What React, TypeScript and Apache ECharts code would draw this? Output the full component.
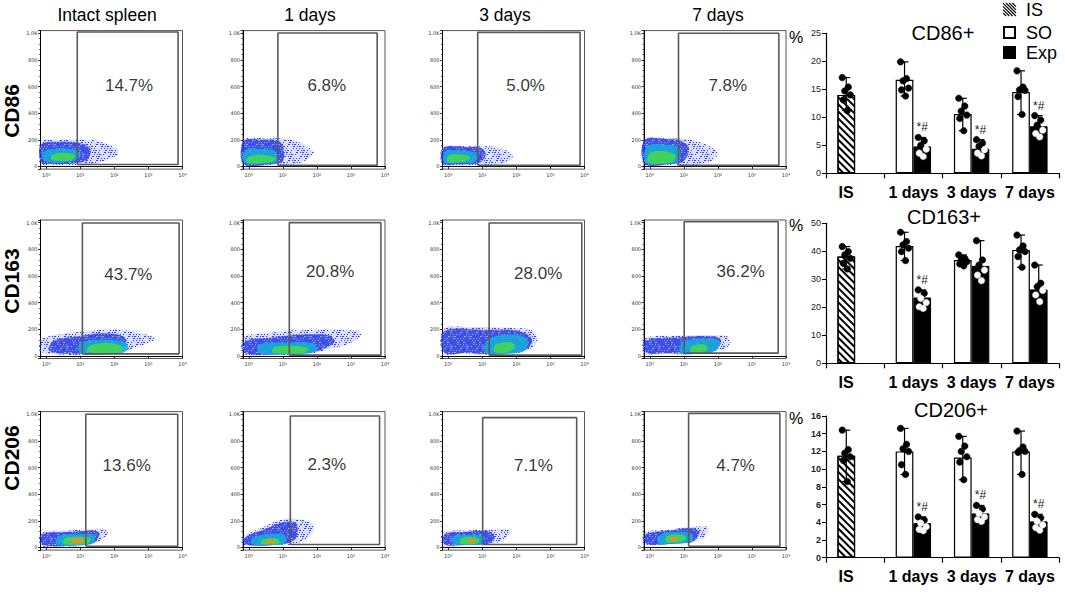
import React, { useEffect, useRef } from 'react';
import * as echarts from 'echarts';

const FONT = "'Liberation Sans', Arial, Helvetica, sans-serif";

// ---------- Flow cytometry panels ----------
const columnTitles = ['Intact spleen', '1 days', '3 days', '7 days'];
const rowMarkers = ['CD86', 'CD163', 'CD206'];
const gatePercents = [
  ['14.7%', '6.8%', '5.0%', '7.8%'],
  ['43.7%', '20.8%', '28.0%', '36.2%'],
  ['13.6%', '2.3%', '7.1%', '4.7%'],
];
// percent label anchor [log10(x), y]
const percentPos = [
  [[2.43, 610], [2.29, 610], [2.27, 610], [2.29, 610]],
  [[2.41, 608], [2.39, 632], [2.64, 615], [2.67, 630]],
  [[2.36, 612], [2.29, 620], [2.5, 612], [2.52, 612]],
];
// gates [log10 xLo, log10 xHi, yLo, yHi]
const gates = [
  [[0.91, 3.87, 15, 1010], [0.855, 3.77, 8, 1002], [0.864, 3.87, 8, 1007], [0.843, 3.79, 8, 1000]],
  [[1.06, 3.9, 15, 997], [1.19, 3.88, 5, 1000], [1.2, 3.92, 5, 997], [1.01, 3.77, 20, 1007]],
  [[1.16, 3.86, 8, 1000], [1.22, 3.84, 22, 987], [1.01, 3.77, 22, 975], [1.14, 3.82, 8, 1007]],
];
const xTickLabels = ['10⁰', '10¹', '10²', '10³', '10⁴'];
const yTickValues = [0, 200, 400, 600, 800, 1000];
const yTickLabels = ['0', '200', '400', '600', '800', '1.0K'];

// density cloud outlines, vertices [log10(x), y]
const cloudOuter = [
  [
    [[-0.15, 20], [-0.15, 185], [0.4, 200], [1.2, 200], [1.6, 185], [2.1, 130], [2.1, 90], [1.7, 40], [1.2, 10], [0.3, 12]],
    [[-0.15, 15], [-0.15, 200], [0.5, 210], [1.2, 205], [1.5, 180], [1.9, 110], [1.7, 50], [1.2, 10], [0.2, 8]],
    [[-0.15, 15], [-0.15, 145], [0.8, 150], [1.3, 148], [1.7, 120], [1.9, 60], [1.5, 20], [0.8, 10]],
    [[-0.15, 15], [-0.15, 205], [0.6, 210], [1.1, 205], [1.6, 170], [2.0, 100], [1.8, 40], [1.3, 10], [0.4, 10]],
  ],
  [
    [[-0.15, 30], [-0.15, 120], [0.5, 165], [1.0, 180], [1.9, 200], [2.6, 180], [3.2, 125], [2.8, 80], [2.2, 30], [1.2, 5], [0.4, 10]],
    [[-0.15, 15], [-0.15, 140], [0.7, 175], [1.6, 195], [2.6, 195], [3.3, 175], [3.1, 110], [2.5, 60], [1.8, 15], [0.8, 5]],
    [[-0.15, 20], [-0.15, 200], [0.6, 215], [1.8, 210], [2.5, 185], [2.6, 100], [2.2, 30], [1.3, 10], [0.4, 18]],
    [[-0.15, 20], [-0.15, 130], [0.8, 150], [2.0, 155], [2.3, 140], [2.3, 70], [1.8, 25], [1.0, 12], [0.3, 15]],
  ],
  [
    [[-0.15, 15], [-0.15, 110], [0.5, 125], [1.2, 135], [1.75, 135], [1.8, 100], [1.5, 40], [1.0, 10], [0.3, 8]],
    [[-0.15, 20], [-0.15, 85], [0.4, 150], [0.9, 205], [1.5, 210], [1.9, 170], [1.8, 90], [1.4, 30], [0.8, 15], [0.2, 18]],
    [[-0.15, 18], [-0.15, 110], [0.6, 128], [1.3, 135], [1.8, 125], [1.7, 70], [1.3, 25], [0.5, 15]],
    [[-0.15, 25], [-0.15, 110], [0.6, 135], [1.3, 155], [1.7, 150], [1.65, 90], [1.3, 40], [0.6, 25]],
  ],
];
const cloudDense = [
  [
    [[-0.15, 25], [-0.15, 165], [0.5, 185], [1.0, 175], [1.3, 130], [1.2, 50], [0.8, 22], [0.1, 20]],
    [[-0.15, 18], [-0.15, 190], [0.4, 200], [0.85, 195], [1.0, 150], [1.0, 40], [0.7, 18]],
    [[-0.15, 20], [-0.15, 140], [0.6, 145], [0.95, 140], [1.1, 90], [0.9, 25], [0.3, 18]],
    [[-0.15, 18], [-0.15, 198], [0.6, 205], [0.9, 195], [1.15, 140], [1.0, 40], [0.6, 18]],
  ],
  [
    [[0.1, 35], [0.2, 110], [0.9, 145], [1.7, 170], [2.3, 140], [2.3, 70], [2.0, 25], [1.0, 15]],
    [[-0.1, 20], [-0.1, 110], [0.8, 140], [1.6, 160], [2.4, 150], [2.5, 100], [2.0, 35], [1.2, 15]],
    [[-0.12, 25], [-0.12, 185], [1.0, 195], [2.0, 190], [2.45, 130], [2.3, 50], [1.5, 15], [0.5, 22]],
    [[-0.1, 25], [-0.1, 115], [0.9, 140], [1.9, 145], [2.1, 110], [1.9, 40], [1.2, 18], [0.5, 20]],
  ],
  [
    [[-0.1, 20], [-0.1, 100], [0.6, 115], [1.3, 125], [1.55, 110], [1.4, 35], [0.8, 15]],
    [[-0.1, 22], [-0.1, 75], [0.5, 140], [1.0, 190], [1.4, 180], [1.35, 60], [0.8, 20]],
    [[-0.1, 22], [-0.1, 100], [0.6, 118], [1.2, 120], [1.35, 80], [1.2, 30], [0.5, 20]],
    [[-0.1, 28], [-0.1, 100], [0.6, 125], [1.2, 145], [1.45, 120], [1.3, 50], [0.7, 28]],
  ],
];
const cloudCyan = [
  [
    [[-0.05, 40], [-0.1, 110], [0.4, 135], [0.9, 120], [1.0, 70], [0.7, 35]],
    [[-0.12, 25], [-0.12, 120], [0.4, 130], [0.8, 110], [0.85, 40], [0.5, 20]],
    [[-0.1, 28], [-0.1, 110], [0.35, 120], [0.8, 100], [0.8, 35], [0.3, 25]],
    [[-0.1, 25], [-0.1, 150], [0.4, 165], [0.85, 140], [0.85, 40], [0.4, 22]],
  ],
  [
    [[1.0, 20], [1.0, 95], [1.6, 120], [2.3, 105], [2.4, 50], [2.1, 15]],
    [[0.3, 20], [0.3, 85], [1.1, 100], [1.9, 95], [2.0, 40], [1.6, 15]],
    [[1.1, 20], [1.15, 120], [1.8, 160], [2.3, 130], [2.25, 40], [1.7, 15]],
    [[0.9, 20], [0.95, 100], [1.6, 130], [2.05, 110], [1.9, 35], [1.4, 15]],
  ],
  [
    [[0.3, 22], [0.35, 85], [0.9, 100], [1.4, 95], [1.4, 40], [1.0, 18]],
    [[0.1, 24], [0.1, 70], [0.6, 100], [1.05, 95], [1.05, 30], [0.6, 20]],
    [[0.15, 25], [0.15, 85], [0.6, 95], [1.05, 85], [1.0, 30], [0.5, 22]],
    [[0.25, 30], [0.3, 95], [0.8, 115], [1.25, 100], [1.2, 45], [0.7, 30]],
  ],
];
const cloudGreen = [
  [
    [[0.15, 50], [0.2, 90], [0.6, 100], [0.85, 80], [0.7, 45]],
    [[-0.05, 30], [0.0, 75], [0.45, 85], [0.8, 60], [0.6, 30]],
    [[-0.02, 35], [0.0, 80], [0.4, 90], [0.65, 65], [0.45, 35]],
    [[-0.05, 30], [0.0, 100], [0.4, 115], [0.75, 85], [0.65, 30]],
  ],
  [
    [[1.2, 30], [1.3, 80], [1.9, 95], [2.25, 65], [2.1, 25]],
    [[0.7, 25], [0.75, 65], [1.3, 75], [1.75, 55], [1.6, 22]],
    [[1.35, 30], [1.4, 85], [1.85, 100], [1.95, 60], [1.7, 25]],
    [[1.2, 30], [1.25, 75], [1.6, 85], [1.7, 55], [1.55, 25]],
  ],
  [
    [[0.5, 28], [0.55, 70], [1.0, 80], [1.3, 65], [1.2, 28]],
    [[0.35, 28], [0.4, 60], [0.85, 65], [0.9, 30]],
    [[0.35, 30], [0.38, 70], [0.75, 78], [0.92, 55], [0.85, 30]],
    [[0.48, 40], [0.5, 85], [0.95, 95], [1.08, 70], [0.9, 40]],
  ],
];
const cloudHot = [
  [[], [], [], []],
  [[], [], [], []],
  [
    [[0.75, 38], [0.75, 62], [1.05, 65], [1.1, 40]],
    [[0.5, 35], [0.55, 55], [0.75, 55], [0.75, 35]],
    [[0.58, 40], [0.6, 62], [0.8, 62], [0.8, 40]],
    [[0.58, 52], [0.6, 75], [0.8, 78], [0.82, 55]],
  ],
];
const cloudLayers = [cloudOuter, cloudDense, cloudCyan, cloudGreen, cloudHot];
const layerFills = [
  'rgba(90,110,255,0.22)',
  'rgba(35,55,235,0.85)',
  'rgba(20,175,215,0.85)',
  'rgba(70,215,80,0.9)',
  'rgba(240,140,30,0.9)',
];

// ---------- Bar charts ----------
const barCats = ['IS', '1 days', '3 days', '7 days'];

const cd86Ctrl = [14.0, 16.7, 10.6, 14.5];
const cd86Exp = [null, 4.8, 4.4, 8.4];
const cd86CtrlDots = [[17.1, 15.4, 14.7, 14.0, 13.1, 11.2], [19.9, 16.9, 16.5, 15.2, 14.9, 13.8], [13.4, 12.0, 11.1, 10.4, 9.8, 7.6], [18.3, 15.4, 14.9, 14.8, 13.7, 10.5]];
const cd86ExpDots = [[], [6.4, 5.8, 5.0, 4.3, 3.6, 3.0], [6.0, 5.4, 4.8, 4.2, 3.6, 3.1], [10.3, 9.5, 8.6, 7.7, 7.1, 6.5]];
const cd86Marks = ['', '*#', '*#', '*#'];

const cd163Ctrl = [38.1, 41.9, 36.9, 40.5];
const cd163Exp = [null, 23.5, 34.8, 26.4];
const cd163CtrlDots = [[41.7, 39.9, 38.7, 37.5, 35.7, 33.7], [46.8, 43.5, 42.3, 41.1, 39.9, 36.7], [38.7, 37.5, 36.9, 36.3, 35.5, 34.8], [45.8, 41.9, 40.5, 39.9, 38.1, 34.3]];
const cd163ExpDots = [[], [26.2, 25.0, 23.2, 21.7, 20.2, 19.6], [43.8, 36.9, 35.1, 33.3, 31.5, 29.5], [35.1, 28.6, 27.4, 26.0, 24.4, 22.0]];
const cd163Marks = ['', '*#', '', ''];

const cd206Ctrl = [11.5, 12.0, 11.3, 12.0];
const cd206Exp = [null, 3.9, 5.0, 4.1];
const cd206CtrlDots = [[14.4, 12.2, 11.8, 11.4, 11.0, 8.6], [14.6, 12.8, 12.3, 12.0, 10.5, 9.4], [13.7, 12.6, 12.0, 11.4, 10.8, 8.8], [14.3, 12.5, 12.1, 12.0, 11.9, 9.4]];
const cd206ExpDots = [[], [4.6, 4.25, 3.9, 3.5, 3.2, 3.05], [5.9, 5.5, 5.0, 4.6, 4.3, 4.1], [4.9, 4.5, 4.1, 3.7, 3.4, 3.1]];
const cd206Marks = ['', '*#', '*#', '*#'];

const barTitles = ['CD86+', 'CD163+', 'CD206+'];
const barMax = [25, 50, 16];
const barInterval = [5, 10, 2];
const legendNames = ['IS', 'SO', 'Exp'];

// speckle texture for the sparse part of the clouds (styling only)
function makeSpeckle(color: string, size: number, count: number): HTMLCanvasElement {
  const cv = document.createElement('canvas');
  cv.width = size;
  cv.height = size;
  const ctx = cv.getContext('2d') as CanvasRenderingContext2D;
  ctx.fillStyle = color;
  for (let i = 0; i < count; i++) {
    const x = (i * 7 + ((i * i) % 5)) % size;
    const y = (i * 11 + ((i * 3) % 4)) % size;
    ctx.fillRect(x, y, 1, 1);
  }
  return cv;
}

function buildOption() {
  const LX_MIN = -0.17;
  const colLefts = [40.5, 243, 442.5, 644];
  const rowTops = [30.6, 220, 411.6];
  const plotW = 142;
  const plotH = 138.5;

  const speckle = makeSpeckle('rgb(50,60,255)', 16, 60);
  const speckleLight = makeSpeckle('rgb(150,170,255)', 16, 40);

  const grid: any[] = [];
  const xAxis: any[] = [];
  const yAxis: any[] = [];
  const series: any[] = [];
  const elements: any[] = [];

  for (let r = 0; r < 3; r++) {
    for (let c = 0; c < 4; c++) {
      const g = grid.length;
      grid.push({
        left: colLefts[c], top: rowTops[r], width: plotW, height: plotH,
        show: true, borderColor: '#555', borderWidth: 1, backgroundColor: 'transparent',
      });
      xAxis.push({
        type: 'log', logBase: 10, gridIndex: g,
        min: Math.pow(10, LX_MIN), max: 10000,
        axisLine: { lineStyle: { color: '#000', width: 1 } },
        axisTick: { length: 2.5, lineStyle: { color: '#000', width: 0.8 } },
        splitLine: { show: false },
        axisLabel: {
          fontSize: 5, margin: 3, color: '#333', fontFamily: "'DejaVu Sans', sans-serif",
          formatter: (v: number) => {
            const e = Math.log10(v);
            const k = Math.round(e);
            if (Math.abs(e - k) > 0.01 || k < 0 || k > 4) return '';
            return xTickLabels[k];
          },
        },
      });
      yAxis.push({
        type: 'value', gridIndex: g, min: -20, max: 1020, splitNumber: 5,
        axisLine: { show: true, lineStyle: { color: '#000', width: 1 } },
        axisTick: { show: true, length: 2.5, lineStyle: { color: '#000', width: 0.8 } },
        minorTick: { show: true, splitNumber: 5, length: 1.5, lineStyle: { color: '#000', width: 0.6 } },
        splitLine: { show: false },
        axisLabel: {
          fontSize: 5, margin: 3, color: '#333', fontFamily: "'DejaVu Sans', sans-serif",
          formatter: (v: number) => {
            const i = yTickValues.indexOf(Math.round(v));
            return i >= 0 && Math.abs(v - yTickValues[i]) < 0.01 ? yTickLabels[i] : '';
          },
        },
      });

      cloudLayers.forEach((layer, li) => {
        const pts = layer[r][c];
        if (!pts || pts.length === 0) return;
        series.push({
          type: 'custom', xAxisIndex: g, yAxisIndex: g, silent: true, z: 2 + li,
          data: pts.map((p) => [Math.pow(10, p[0]), p[1]]),
          renderItem: (params: any, api: any) => {
            if (params.dataIndex !== 0) return null;
            const points = pts.map((p) => api.coord([Math.pow(10, p[0]), p[1]]));
            const children: any[] = [
              { type: 'polygon', shape: { points, smooth: 0.35 }, style: { fill: layerFills[li] } },
            ];
            if (li === 0) {
              children.push({ type: 'polygon', shape: { points, smooth: 0.35 }, style: { fill: { image: speckle, repeat: 'repeat' } } });
            }
            if (li === 1) {
              children.push({ type: 'polygon', shape: { points, smooth: 0.35 }, style: { fill: { image: speckleLight, repeat: 'repeat' } } });
            }
            return { type: 'group', children };
          },
        });
      });

      const [a, b, lo, hi] = gates[r][c];
      const xa = Math.pow(10, a);
      const xb = Math.pow(10, b);
      series.push({
        type: 'line', xAxisIndex: g, yAxisIndex: g, silent: true, z: 10,
        symbol: 'none',
        lineStyle: { color: '#5a5a5a', width: 1.6 },
        data: [[xa, lo], [xb, lo], [xb, hi], [xa, hi], [xa, lo]],
      });

      const pp = percentPos[r][c];
      const txt = gatePercents[r][c];
      series.push({
        type: 'scatter', xAxisIndex: g, yAxisIndex: g, silent: true, z: 11,
        symbolSize: 1, itemStyle: { color: 'rgba(0,0,0,0)' },
        data: [[Math.pow(10, pp[0]), pp[1]]],
        label: {
          show: true, position: 'inside', formatter: () => txt,
          fontSize: 17, fontFamily: FONT, color: '#000',
        },
      });
    }
  }

  // column titles
  const titleX = [107, 310, 505, 718];
  columnTitles.forEach((t, i) => {
    elements.push({
      type: 'text', x: titleX[i], y: 15,
      style: { text: t, fontSize: 17.5, fontFamily: FONT, fill: '#000', align: 'center', verticalAlign: 'middle', textAlign: 'center', textVerticalAlign: 'middle' },
    });
  });
  // row markers
  const markerY = [111, 281, 458];
  rowMarkers.forEach((t, i) => {
    elements.push({
      type: 'text', x: 11, y: markerY[i], rotation: Math.PI / 2,
      style: { text: t, fontSize: 21, fontWeight: 'bold', fontFamily: FONT, fill: '#000', align: 'center', verticalAlign: 'middle', textAlign: 'center', textVerticalAlign: 'middle' },
    });
  });

  // ---------- bar charts ----------
  const BAR_W = 17.7;
  const barTops = [33.3, 223.3, 416];
  const barHeights = [140, 140, 141.7];
  const ctrlSets = [cd86Ctrl, cd163Ctrl, cd206Ctrl];
  const expSets = [cd86Exp, cd163Exp, cd206Exp];
  const ctrlDotSets = [cd86CtrlDots, cd163CtrlDots, cd206CtrlDots];
  const expDotSets = [cd86ExpDots, cd163ExpDots, cd206ExpDots];
  const markSets = [cd86Marks, cd163Marks, cd206Marks];
  const jitter = [-4, 2, -1.5, 4, -3, 1];
  const hatch = {
    symbol: 'rect', symbolSize: 1, color: '#000',
    dashArrayX: [1, 0], dashArrayY: [1.3, 2.4], rotation: Math.PI / 4,
  };

  for (let k = 0; k < 3; k++) {
    const g = grid.length;
    grid.push({ left: 826, top: barTops[k], width: 233, height: barHeights[k] });
    xAxis.push({
      type: 'category', gridIndex: g, data: barCats,
      axisLine: { lineStyle: { color: '#000', width: 1.2 } },
      axisTick: { show: true, length: 5, alignWithLabel: false, interval: 0, lineStyle: { color: '#000', width: 1.2 } },
      axisLabel: {
        interval: 0, fontSize: 16, fontWeight: 'bold', color: '#000', fontFamily: FONT, margin: 11,
        formatter: (v: string) => (v === 'IS' ? '{l|IS}' : v),
        rich: { l: { fontSize: 16, fontWeight: 'bold', fontFamily: FONT, color: '#000', padding: [0, 18, 0, 0] } },
      },
    });
    yAxis.push({
      type: 'value', gridIndex: g, min: 0, max: barMax[k], interval: barInterval[k],
      axisLine: { show: true, lineStyle: { color: '#000', width: 1.2 } },
      axisTick: { show: true, length: 4, lineStyle: { color: '#000', width: 1 } },
      splitLine: { show: false },
      axisLabel: { fontSize: 9, color: '#222', fontFamily: FONT, margin: 5, fontWeight: k === 2 ? 'bold' : 'normal' },
    });
    const ctrl = ctrlSets[k];
    const exp = expSets[k];
    series.push({
      type: 'bar', xAxisIndex: g, yAxisIndex: g, barWidth: BAR_W, barGap: '0%', z: 2,
      itemStyle: { color: '#fff', borderColor: '#000', borderWidth: 1.2 },
      data: ctrl.map((v, i) => (i === 0 ? { value: v, itemStyle: { decal: hatch } } : v)),
    });
    series.push({
      type: 'bar', xAxisIndex: g, yAxisIndex: g, barWidth: BAR_W, barGap: '0%', z: 2,
      itemStyle: { color: '#000', borderColor: '#000', borderWidth: 1 },
      data: exp.map((v) => (v == null ? '-' : v)),
    });

    // error bars (range of the points)
    const errData: number[][] = [];
    const dotData: number[][] = [];
    ctrlDotSets[k].forEach((dots, ci) => {
      if (dots.length) {
        errData.push([ci, Math.min(...dots), Math.max(...dots), 0]);
        dots.forEach((v, j) => dotData.push([ci, v, 0, j, 1]));
      }
    });
    expDotSets[k].forEach((dots, ci) => {
      if (dots.length) {
        errData.push([ci, Math.min(...dots), Math.max(...dots), 1]);
        const mean = exp[ci] as number;
        dots.forEach((v, j) => dotData.push([ci, v, 1, j, v > mean ? 1 : 0]));
      }
    });
    series.push({
      type: 'custom', xAxisIndex: g, yAxisIndex: g, silent: true, z: 4,
      data: errData,
      renderItem: (params: any, api: any) => {
        const cat = api.value(0);
        const off = api.value(3) === 0 ? -BAR_W / 2 : BAR_W / 2;
        const pLo = api.coord([cat, api.value(1)]);
        const pHi = api.coord([cat, api.value(2)]);
        const x = pLo[0] + off;
        const st = { stroke: '#000', lineWidth: 1.2 };
        return {
          type: 'group',
          children: [
            { type: 'line', shape: { x1: x, y1: pLo[1], x2: x, y2: pHi[1] }, style: st },
            { type: 'line', shape: { x1: x - 4, y1: pLo[1], x2: x + 4, y2: pLo[1] }, style: st },
            { type: 'line', shape: { x1: x - 4, y1: pHi[1], x2: x + 4, y2: pHi[1] }, style: st },
          ],
        };
      },
    });
    series.push({
      type: 'custom', xAxisIndex: g, yAxisIndex: g, silent: true, z: 5,
      data: dotData,
      renderItem: (params: any, api: any) => {
        const cat = api.value(0);
        const off = api.value(2) === 0 ? -BAR_W / 2 : BAR_W / 2;
        const p = api.coord([cat, api.value(1)]);
        const dark = api.value(4) === 1;
        return {
          type: 'circle',
          shape: { cx: p[0] + off + jitter[api.value(3) % jitter.length], cy: p[1], r: 3.3 },
          style: { fill: dark ? '#000' : '#fff', stroke: dark ? '#000' : '#ccc', lineWidth: 0.5 },
        };
      },
    });
    const marks = markSets[k];
    const markData: number[][] = [];
    marks.forEach((m, ci) => {
      if (m) markData.push([ci, Math.max(...expDotSets[k][ci])]);
    });
    series.push({
      type: 'custom', xAxisIndex: g, yAxisIndex: g, silent: true, z: 6,
      data: markData,
      renderItem: (params: any, api: any) => {
        const cat = api.value(0);
        const p = api.coord([cat, api.value(1)]);
        return {
          type: 'text', x: p[0] + BAR_W / 2, y: p[1] - 10,
          style: { text: marks[cat], fill: '#222', fontSize: 12, fontFamily: FONT, align: 'center', verticalAlign: 'middle' },
        };
      },
    });
  }

  // bar titles and % labels
  const bTitlePos = [[943, 33], [944, 217], [951, 410]];
  barTitles.forEach((t, i) => {
    elements.push({
      type: 'text', x: bTitlePos[i][0], y: bTitlePos[i][1],
      style: { text: t, fontSize: 20, fontFamily: FONT, fill: '#000', align: 'center', verticalAlign: 'middle', textAlign: 'center', textVerticalAlign: 'middle' },
    });
  });
  const pctY = [37, 225, 418];
  pctY.forEach((y) => {
    elements.push({
      type: 'text', x: 796, y,
      style: { text: '%', fontSize: 16, fontFamily: FONT, fill: '#000', align: 'center', verticalAlign: 'middle', textAlign: 'center', textVerticalAlign: 'middle' },
    });
  });

  // legend
  const lx = 1003;
  const ls = 13;
  const legY = [3, 26, 46];
  for (let d = -ls; d <= ls; d += 3.2) {
    const t0 = Math.max(0, -d);
    const t1 = Math.min(ls, ls - d);
    if (t1 - t0 < 0.5) continue;
    elements.push({
      type: 'line',
      shape: { x1: lx + t0 + d, y1: legY[0] + t0, x2: lx + t1 + d, y2: legY[0] + t1 },
      style: { stroke: '#000', lineWidth: 1.1 },
    });
  }
  elements.push({ type: 'rect', shape: { x: lx + 1, y: legY[1] + 1, width: ls - 2, height: ls - 2 }, style: { fill: '#fff', stroke: '#000', lineWidth: 2 } });
  elements.push({ type: 'rect', shape: { x: lx, y: legY[2], width: ls, height: ls }, style: { fill: '#000' } });
  legendNames.forEach((t, i) => {
    elements.push({
      type: 'text', x: 1026, y: legY[i] + ls / 2,
      style: { text: t, fontSize: 18, fontFamily: FONT, fill: '#000', align: 'left', verticalAlign: 'middle', textAlign: 'left', textVerticalAlign: 'middle' },
    });
  });

  return {
    animation: false,
    backgroundColor: '#fff',
    textStyle: { fontFamily: FONT },
    grid, xAxis, yAxis, series,
    graphic: { elements },
  };
}

export default function App() {
  const ref = useRef<HTMLDivElement>(null);
  useEffect(() => {
    const chart = echarts.init(ref.current as HTMLDivElement, null, { renderer: 'svg', width: 1065, height: 594 });
    chart.setOption(buildOption() as any);
    return () => chart.dispose();
  }, []);
  return <div ref={ref} style={{ position: 'fixed', left: 0, top: 0, width: 1065, height: 594, background: '#fff' }} />;
}
